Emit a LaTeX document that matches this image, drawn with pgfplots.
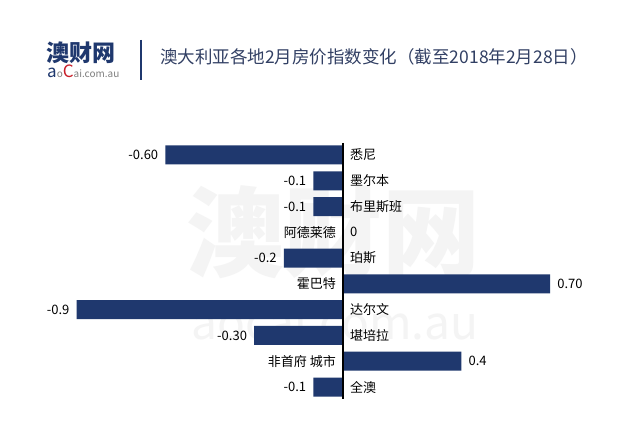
\documentclass[border=0pt]{standalone}
\usepackage{pgfplots}
\pgfplotsset{compat=1.18}
\usepackage{pgfplotstable}
\usepackage{fontspec}
\setmainfont{Noto Sans CJK SC}
\definecolor{navy}{RGB}{31,56,110}
\definecolor{titlec}{RGB}{50,64,100}
\definecolor{logored}{RGB}{200,30,40}
\definecolor{wm}{RGB}{244,244,244}
% bars with negative values: value label left, name right of axis
\pgfplotstableread[col sep=comma]{
idx,val,z,lbl,name
0,-0.60,0,-0.60,悉尼
1,-0.1,0,-0.1,墨尔本
2,-0.1,0,-0.1,布里斯班
4,-0.2,0,-0.2,珀斯
6,-0.9,0,-0.9,达尔文
7,-0.30,0,-0.30,堪培拉
9,-0.1,0,-0.1,全澳
}\neg
% bars with non-negative values: value label right, name left of axis
\pgfplotstableread[col sep=comma]{
idx,val,z,lbl,name
3,0,0,0,阿德莱德
5,0.70,0,0.70,霍巴特
8,0.4,0,0.4,非首府 城市
}\pos
\begin{document}
\begin{tikzpicture}
\path[use as bounding box, fill=white] (0,0) rectangle (640pt,440pt);
% watermark
\node[text=wm, font=\fontsize{98pt}{100pt}\selectfont\bfseries] at (333pt,208pt) {澳财网};
\node[text=wm, font=\fontsize{46pt}{50pt}\selectfont] at (335pt,118pt) {aocai.com.au};
% header
\node[anchor=west, inner sep=0pt, text=navy, font=\fontsize{23pt}{26pt}\selectfont\bfseries] at (46pt,387pt) {澳财网};
\node[anchor=west, inner sep=0pt, font=\fontsize{10pt}{12pt}\selectfont] at (47pt,369pt) {{\color{navy}\fontsize{17pt}{18pt}\selectfont a}{\color{gray}o}{\color{logored}\fontsize{17pt}{18pt}\selectfont C}{\color{gray}ai.com.au}};
\draw[navy, line width=1.4pt] (141pt,400pt) -- (141pt,360pt);
\node[anchor=west, inner sep=0pt, text=titlec, font=\fontsize{17.5pt}{19pt}\selectfont] at (160pt,383pt) {澳大利亚各地2月房价指数变化（截至2018年2月28日）};
\begin{axis}[
  at={(47pt,40.1pt)}, anchor=south west,
  scale only axis, width=592pt, height=257.8pt,
  xmin=-1, xmax=1, ymin=-0.5, ymax=9.5, y dir=reverse,
  hide axis, clip=false,
  nodes near coords, point meta=explicit symbolic,
]
\addplot[xbar, fill=navy, draw=none, bar width=19pt,
  nodes near coords style={anchor=east, inner xsep=7pt, inner ysep=0pt, text=black, font=\fontsize{13pt}{15pt}\selectfont}]
  table[x=val, y=idx, meta=lbl] {\neg};
\addplot[xbar, fill=navy, draw=none, bar width=19pt,
  nodes near coords style={anchor=west, inner xsep=7pt, inner ysep=0pt, text=black, font=\fontsize{13pt}{15pt}\selectfont}]
  table[x=val, y=idx, meta=lbl] {\pos};
\addplot[draw=none, mark=none,
  nodes near coords style={anchor=west, inner xsep=7pt, inner ysep=0pt, text=black, font=\fontsize{13pt}{15pt}\selectfont}]
  table[x=z, y=idx, meta=name] {\neg};
\addplot[draw=none, mark=none,
  nodes near coords style={anchor=east, inner xsep=7pt, inner ysep=0pt, text=black, font=\fontsize{13pt}{15pt}\selectfont}]
  table[x=z, y=idx, meta=name] {\pos};
\draw[black, line width=1.2pt] (axis cs:0,-0.47) -- (axis cs:0,9.47);
\end{axis}
\end{tikzpicture}
\end{document}
